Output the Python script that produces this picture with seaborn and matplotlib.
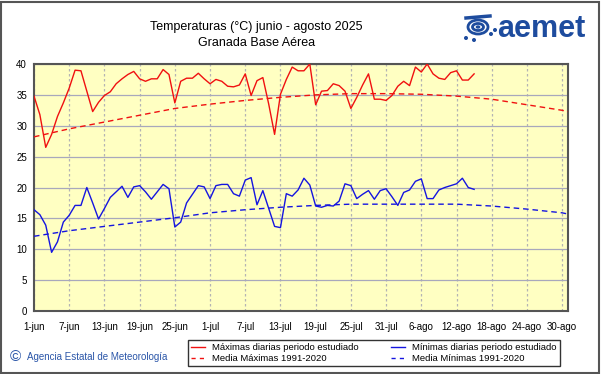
import matplotlib
matplotlib.use("Agg")
import matplotlib.pyplot as plt
from matplotlib import font_manager
from matplotlib.patches import Rectangle, Ellipse, Circle
from matplotlib.lines import Line2D
import seaborn as sns
import pandas as pd

# ---------------- data ----------------
tick_days = [0, 6, 12, 18, 24, 30, 36, 42, 48, 54, 60, 66, 72, 78, 84, 90]
tick_labels = ["1-jun", "7-jun", "13-jun", "19-jun", "25-jun", "1-jul", "7-jul",
               "13-jul", "19-jul", "25-jul", "31-jul", "6-ago", "12-ago",
               "18-ago", "24-ago", "30-ago"]

max_t = [34.8, 31.8, 26.5, 28.6, 31.5, 33.7, 36.1, 39.0, 38.9, 35.6,
         32.3, 33.8, 34.9, 35.5, 36.8, 37.6, 38.3, 38.8, 37.6, 37.2,
         37.6, 37.6, 39.1, 38.3, 33.7, 37.2, 37.7, 37.7, 38.5, 37.6,
         36.8, 37.5, 37.2, 36.4, 36.3, 36.6, 38.4, 34.9, 37.3, 37.8,
         33.5, 28.6, 35.1, 37.5, 39.5, 38.9, 38.9, 40.0, 33.4, 35.6,
         35.7, 36.8, 36.5, 35.6, 32.8, 34.6, 36.6, 38.4, 34.3, 34.3,
         34.1, 34.9, 36.4, 37.2, 36.5, 39.5, 38.7, 40.0, 38.4, 37.7,
         37.5, 38.6, 38.9, 37.4, 37.4, 38.4]

min_t = [16.4, 15.6, 13.9, 9.5, 11.2, 14.4, 15.5, 17.1, 17.1, 20.0,
         17.5, 14.9, 16.6, 18.4, 19.3, 20.2, 18.4, 20.1, 20.3, 19.3,
         18.1, 19.3, 20.5, 19.8, 13.6, 14.4, 17.5, 18.9, 20.3, 20.1,
         18.2, 20.3, 20.5, 20.5, 19.0, 18.6, 21.2, 21.6, 17.2, 19.5,
         16.6, 13.7, 13.5, 19.0, 18.6, 19.6, 21.5, 20.4, 17.0, 16.8,
         17.1, 17.0, 17.8, 20.6, 20.3, 18.2, 18.9, 19.5, 18.1, 19.5,
         19.8, 18.5, 17.1, 19.2, 19.6, 21.0, 21.4, 18.2, 18.2, 19.6,
         20.0, 20.3, 20.6, 21.5, 20.0, 19.7]

norm_days = [0, 6, 12, 18, 24, 30, 36, 42, 48, 54, 60, 66, 72, 78, 84, 90, 91]
norm_max = [28.2, 29.5, 30.6, 31.7, 32.8, 33.5, 34.1, 34.6, 35.0, 35.2,
            35.2, 35.1, 34.8, 34.3, 33.4, 32.5, 32.3]
norm_min = [12.1, 13.0, 13.7, 14.4, 15.1, 15.9, 16.4, 16.8, 17.1, 17.3,
            17.3, 17.3, 17.3, 17.0, 16.5, 15.9, 15.7]

y_ticks = [0, 5, 10, 15, 20, 25, 30, 35, 40]

title_lines = ["Temperaturas (°C) junio - agosto 2025", "Granada Base Aérea"]
legend_labels = ["Máximas diarias periodo estudiado", "Media Máximas 1991-2020",
                 "Mínimas diarias periodo estudiado", "Media Mínimas 1991-2020"]
copyright_text = "Agencia Estatal de Meteorología"

# ---------------- styling ----------------
names = {f.name for f in font_manager.fontManager.ttflist}
base_font = "Liberation Sans" if "Liberation Sans" in names else "DejaVu Sans"
narrow_font = "Liberation Sans Narrow" if "Liberation Sans Narrow" in names else base_font
title_size = 10 if narrow_font != base_font else 9
plt.rcParams["font.family"] = [base_font, "DejaVu Sans"]

RED = "#F01010"
BLUE = "#1515E0"
W, H = 601, 374
fig = plt.figure(figsize=(W / 100, H / 100), dpi=100)
fig.patch.set_facecolor("white")

L, R, T, B = 34, 568, 64, 311
ax = fig.add_axes([L / W, (H - B) / H, (R - L) / W, (B - T) / H])
ax.set_facecolor("#FFFFC2")

days = list(range(len(max_t)))
df = pd.DataFrame({"day": days, "max": max_t, "min": min_t})
dn = pd.DataFrame({"day": norm_days, "nmax": norm_max, "nmin": norm_min})

sns.lineplot(data=df, x="day", y="max", ax=ax, color=RED, lw=1.0, zorder=4)
sns.lineplot(data=df, x="day", y="min", ax=ax, color=BLUE, lw=1.0, zorder=4)
sns.lineplot(data=dn, x="day", y="nmax", ax=ax, color=RED, lw=1.0,
             linestyle=(0, (4, 2.8)), zorder=3)
sns.lineplot(data=dn, x="day", y="nmin", ax=ax, color=BLUE, lw=1.0,
             linestyle=(0, (4, 2.8)), zorder=3)

ax.set_xlim(0, 91)
ax.set_ylim(0, 40)
ax.set_xticks(tick_days)
ax.set_xticklabels(tick_labels)
ax.set_yticks(y_ticks)
ax.set_xlabel("")
ax.set_ylabel("")
ax.tick_params(axis="both", length=0, labelsize=7, colors="black")
ax.tick_params(axis="x", pad=8)
ax.tick_params(axis="y", pad=5)

ax.set_axisbelow(True)
ax.yaxis.grid(True, color="#A8A8BC", lw=0.9, ls="-")
ax.xaxis.grid(True, color="#B4B4B4", lw=0.9, ls=(0, (2, 2)))
for s in ax.spines.values():
    s.set_color("#555555")
    s.set_linewidth(1.5)

# title
fig.text(256 / W, 1 - 27 / H, title_lines[0], ha="center", va="center",
         fontsize=title_size, family=[narrow_font, "DejaVu Sans"])
fig.text(257 / W, 1 - 43 / H, title_lines[1], ha="center", va="center",
         fontsize=title_size, family=[narrow_font, "DejaVu Sans"])

# logo
LOGO = "#1E4C9E"
fig.text(497 / W, 1 - 29 / H, "aemet", ha="left", va="center", fontsize=22,
         fontweight="bold", color=LOGO)
for (cx, cy, ew, eh) in [(478, 27, 20, 14), (478, 27, 11, 7)]:
    fig.add_artist(Ellipse((cx / W, 1 - cy / H), ew / W, eh / H, fill=False,
                           ec=LOGO, lw=2.0, transform=fig.transFigure))
fig.add_artist(Circle((478 / W, 1 - 27 / H), 1.6 / W, color=LOGO,
                      transform=fig.transFigure))
for (px, py) in [(466, 38), (474, 40), (491, 34), (495, 30)]:
    fig.add_artist(Ellipse((px / W, 1 - py / H), 2.6 / W, 2.6 / H, color=LOGO,
                           transform=fig.transFigure))
fig.add_artist(Line2D([466 / W, 490 / W], [1 - 18 / H, 1 - 16 / H], color=LOGO,
                      lw=2.5, transform=fig.transFigure))

# legend
handles = [Line2D([], [], color=RED, lw=1.0),
           Line2D([], [], color=RED, lw=1.0, ls=(0, (3, 3))),
           Line2D([], [], color=BLUE, lw=1.0),
           Line2D([], [], color=BLUE, lw=1.0, ls=(0, (3, 3)))]
leg = fig.legend(handles, legend_labels, ncol=2, loc="center",
                 bbox_to_anchor=(188 / W, 5 / H, 372 / W, 32 / H),
                 mode="expand", fontsize=6.8, frameon=True, fancybox=False,
                 handlelength=1.4, handletextpad=0.8, borderaxespad=0,
                 labelspacing=0.25, borderpad=0.35, columnspacing=1.5)
leg.get_frame().set_edgecolor("black")
leg.get_frame().set_linewidth(1.0)

# copyright
CP = "#2A55A8"
fig.text(10 / W, 1 - 357 / H, "©", ha="left", va="center", fontsize=11,
         color=CP)
fig.text(27 / W, 1 - 357 / H, copyright_text, ha="left", va="center",
         fontsize=7, color=CP)

# outer border
fig.add_artist(Rectangle((1 / W, 1 / H), (W - 3) / W, (H - 3) / H, fill=False,
                         ec="#555555", lw=1.5, transform=fig.transFigure))

fig.savefig("out.png", dpi=100)
